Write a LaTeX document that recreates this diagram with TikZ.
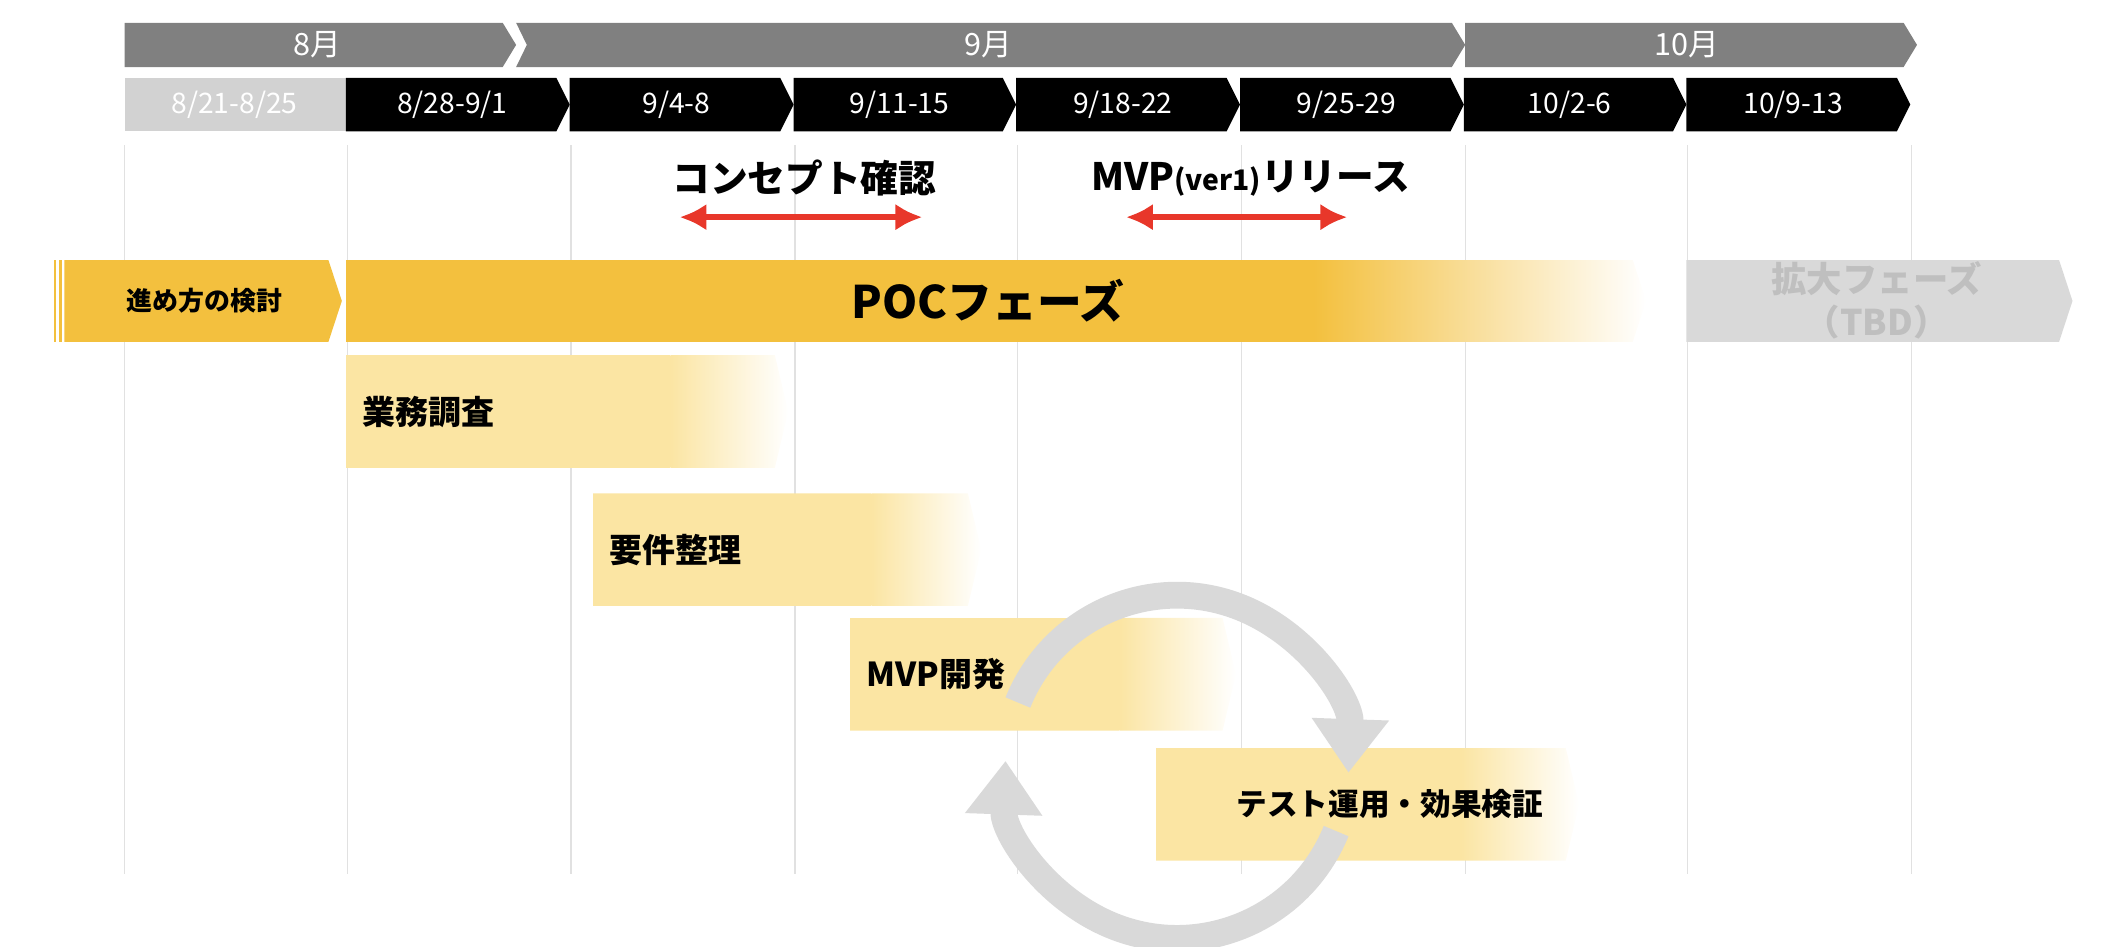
\documentclass[tikz,border=0pt]{standalone}
\usepackage{fontspec}
\setmainfont{Noto Sans CJK JP}
\usetikzlibrary{arrows.meta,positioning}
\definecolor{monthcolor}{RGB}{128,128,128}
\definecolor{pastcolor}{RGB}{210,210,210}
\definecolor{phasecolor}{RGB}{243,192,62}
\definecolor{taskcolor}{RGB}{251,229,163}
\definecolor{tbdcolor}{RGB}{217,217,217}
\definecolor{tbdtext}{RGB}{191,191,191}
\definecolor{gridcolor}{RGB}{225,225,225}
\definecolor{markcolor}{RGB}{232,55,42}
\definecolor{loopcolor}{RGB}{217,217,217}

% chevron bar: x1, x2, y1, y2
\newcommand{\chevbar}[4]{(#1,#3) -- ({#2-10},#3) -- (#2,{(#3+#4)/2}) -- ({#2-10},#4) -- (#1,#4) -- cycle}
% bar fading to white: x1, x2, fade start, y1, y2, colour
\newcommand{\fadebar}[6]{%
  \begin{scope}
    \clip \chevbar{#1}{#2}{#4}{#5};
    \fill[#6] (#1,#4) rectangle (#3,#5);
    \shade[left color=#6,right color=white] (#3,#4) rectangle (#2,#5);
  \end{scope}}

\begin{document}
\begin{tikzpicture}[
    x=0.01cm, y=-0.01cm,
    month/.style={text=white, font=\fontsize{6.5}{7}\selectfont},
    week/.style={text=white, font=\fontsize{6}{7}\selectfont},
    phase/.style={font=\bfseries\fontsize{5.5}{7}\selectfont, anchor=west},
    big/.style={font=\bfseries\fontsize{8}{9}\selectfont},
    milestone/.style={{Latex[width=0.2cm,length=0.2cm]}-{Latex[width=0.2cm,length=0.2cm]}, line width=0.04cm, markcolor},
    cycarrow/.style={line width=0.2cm, loopcolor, -{Triangle[width=0.55cm,length=0.4cm]}}
    ]
\useasboundingbox (0,0) rectangle (1568,706);

% grid
\foreach \gx in {93,259,426,593,759,926,1093,1259,1426}
  \draw[gridcolor, line width=0.01cm] (\gx,108) -- (\gx,652);

% months
\fill[monthcolor] \chevbar{93}{385}{17}{50};
\fill[monthcolor] (385,17) -- (1083,17) -- (1093,33.5) -- (1083,50) -- (385,50) -- (393,33.5) -- cycle;
\fill[monthcolor] (1093,17) -- (1420,17) -- (1430,33.5) -- (1420,50) -- (1093,50) -- cycle;
\node[month] (aug) at (237,33) {8月};
\node[month] (sep) at (737,33) {9月};
\node[month] (oct) at (1258,33) {10月};

% weeks
\fill[pastcolor] (93,58) rectangle (258,98);
\node[week] (w1) at (175,78) {8/21-8/25};
\foreach \xa/\xb/\lab [count=\i from 2] in {258/425/{8/28-9/1}, 425/592/{9/4-8}, 592/758/{9/11-15},
    758/925/{9/18-22}, 925/1092/{9/25-29}, 1092/1258/{10/2-6}, 1258/1425/{10/9-13}} {
  \fill[black] \chevbar{\xa}{\xb}{58}{98};
  \node[week] (w\i) at ({(\xa+\xb)/2-4},78) {\lab};
}

% milestones
\node[big] (concept) at (600,133) {コンセプト確認};
\coordinate (conceptL) at (507,162);
\coordinate (conceptR) at (688,162);
\draw[milestone] (conceptL) -- (conceptR);
\node[big] (release) at (933,133) {MVP{\fontsize{6}{7}\selectfont(ver1)}リリース};
\coordinate (releaseL) at (840,162);
\coordinate (releaseR) at (1005,162);
\draw[milestone] (releaseL) -- (releaseR);

% phases
\fill[phasecolor] (40,194) rectangle (42,255);
\fill[phasecolor] (44,194) rectangle (46,255);
\fill[phasecolor] \chevbar{48}{255}{194}{255};
\node[phase] (plan) at (82,224) {進め方の検討};
\fadebar{258}{1228}{980}{194}{255}{phasecolor}
\node[big, font=\bfseries\fontsize{9.5}{10}\selectfont] (poc) at (737,224) {POCフェーズ};
\fill[tbdcolor] \chevbar{1258}{1546}{194}{255};
\node[big, text=tbdtext, align=center, font=\bfseries\fontsize{7.5}{9}\selectfont] (expand) at (1400,224) {拡大フェーズ\\（TBD）};

% tasks
\fadebar{258}{588}{500}{265}{349}{taskcolor}
\node[phase, font=\bfseries\fontsize{7}{8}\selectfont] (survey) at (258,307) {業務調査};
\fadebar{442}{732}{650}{368}{452}{taskcolor}
\node[phase, font=\bfseries\fontsize{7}{8}\selectfont] (require) at (442,410) {要件整理};
\fadebar{634}{922}{835}{461}{545}{taskcolor}
\node[phase, font=\bfseries\fontsize{7}{8}\selectfont] (mvp) at (634,503) {MVP開発};
\fadebar{862}{1178}{1090}{558}{642}{taskcolor}
\node[phase, font=\bfseries\fontsize{6.5}{8}\selectfont] (test) at (910,600) {テスト運用・効果検証};

% cycle
\begin{scope}[y=0.01cm]
  \coordinate (cyc) at (878,-572);
  \draw[cycarrow] ([shift={(158:128)}]cyc) arc[start angle=158, end angle=-2, radius=128];
  \draw[cycarrow] ([shift={(-22:128)}]cyc) arc[start angle=-22, end angle=-182, radius=128];
\end{scope}
\end{tikzpicture}
\end{document}
